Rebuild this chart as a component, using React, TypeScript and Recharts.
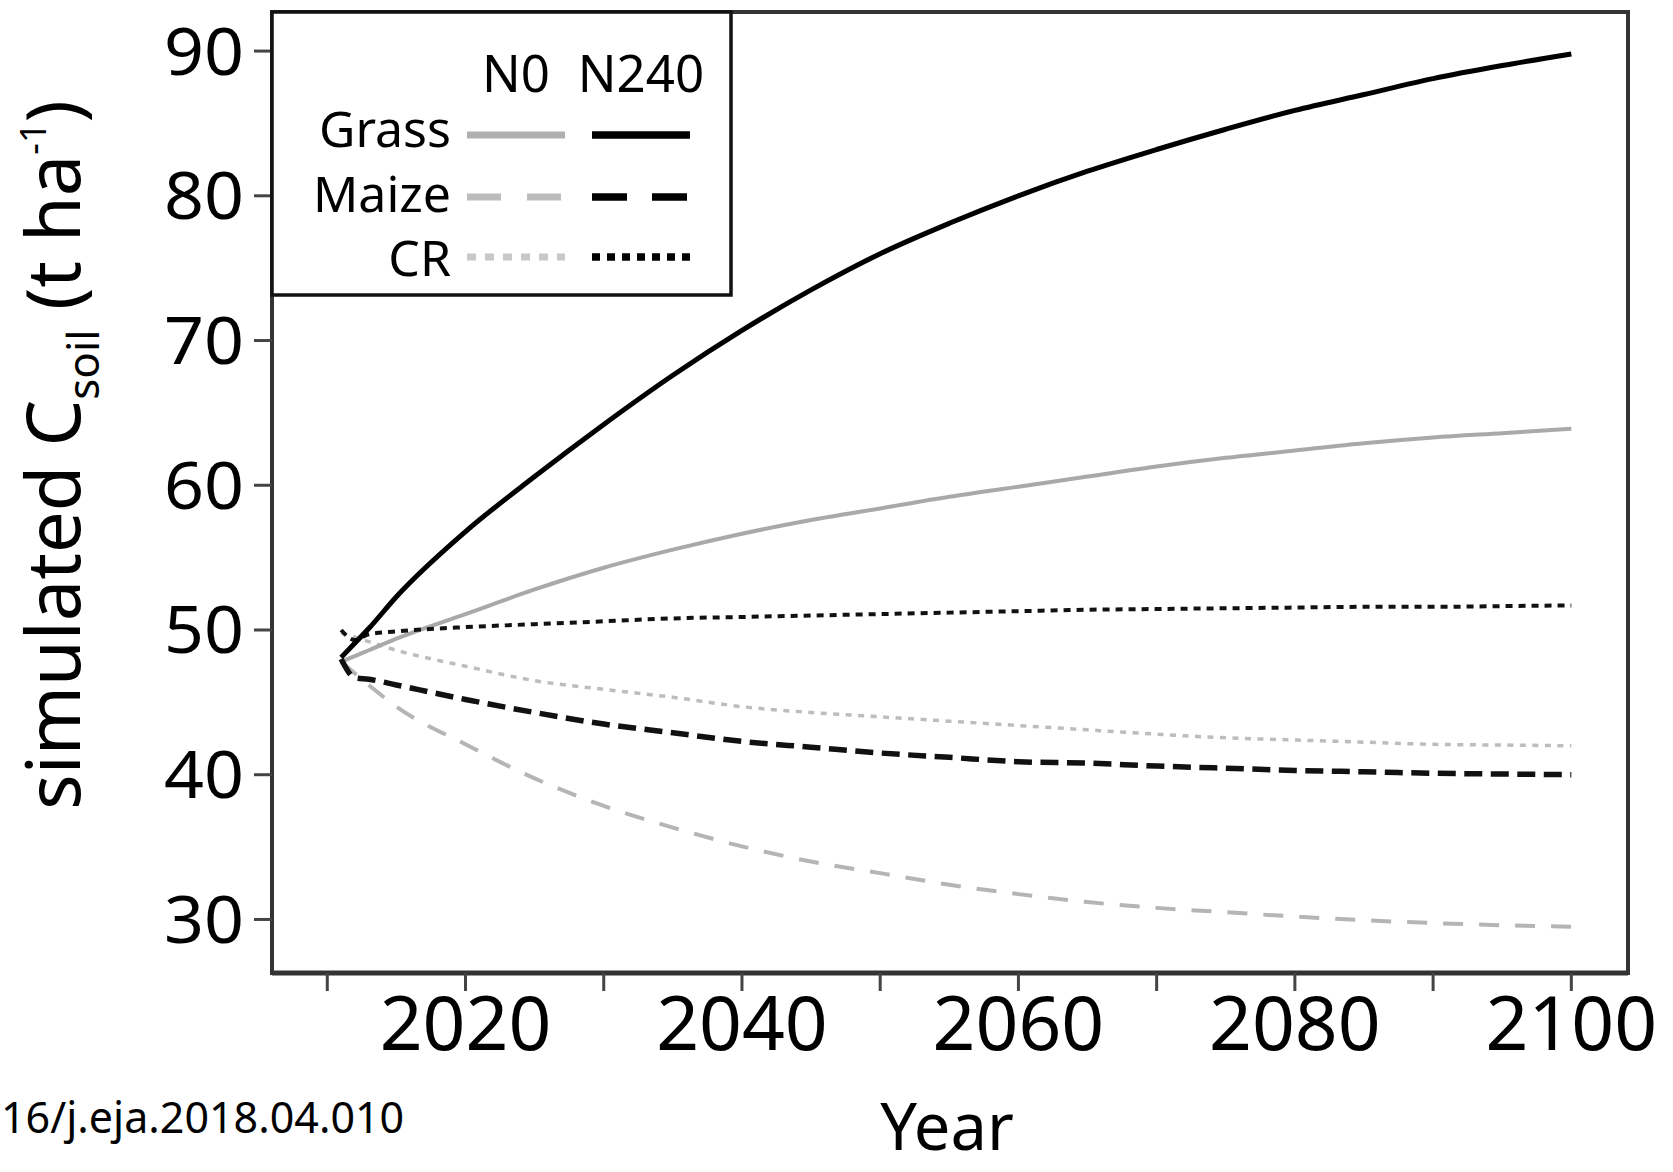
import React from "react";
import { Label, Line, LineChart, ReferenceArea, XAxis, YAxis } from "recharts";

// simulated soil C stocks (t ha-1)
const years = [2011, 2012, 2013, 2015, 2020, 2025, 2030, 2035, 2040, 2045, 2050, 2055, 2060, 2065, 2070, 2075, 2080, 2085, 2090, 2095, 2100];
const grassN0 = [47.8, 48.2, 48.6, 49.4, 51.1, 52.8, 54.3, 55.55, 56.65, 57.6, 58.4, 59.2, 59.9, 60.6, 61.3, 61.9, 62.4, 62.9, 63.3, 63.6, 63.9];
const grassN240 = [48.1, 49.1, 50.1, 52.3, 56.8, 60.6, 64.2, 67.6, 70.7, 73.5, 76.0, 78.1, 80.0, 81.7, 83.2, 84.6, 85.9, 87.0, 88.1, 89.0, 89.8];
const maizeN0 = [47.8, 47.0, 46.2, 44.7, 42.1, 39.75, 37.85, 36.35, 35.05, 34.0, 33.2, 32.4, 31.75, 31.2, 30.8, 30.5, 30.2, 29.95, 29.75, 29.6, 29.5];
const maizeN240 = [48.0, 46.7, 46.6, 46.2, 45.2, 44.3, 43.5, 42.9, 42.3, 41.9, 41.5, 41.2, 40.9, 40.8, 40.6, 40.45, 40.3, 40.2, 40.1, 40.05, 40.0];
const crN0 = [49.8, 49.5, 49.2, 48.6, 47.5, 46.5, 45.9, 45.35, 44.7, 44.3, 44.0, 43.7, 43.4, 43.1, 42.8, 42.55, 42.4, 42.25, 42.1, 42.05, 42.0];
const crN240 = [50.0, 49.3, 49.7, 49.9, 50.2, 50.4, 50.6, 50.8, 50.9, 51.0, 51.1, 51.2, 51.3, 51.4, 51.45, 51.5, 51.55, 51.6, 51.6, 51.65, 51.7];

const crops = ["Grass", "Maize", "CR"];
const nLevels = ["N0", "N240"];
const xTicks = [2010, 2020, 2030, 2040, 2050, 2060, 2070, 2080, 2090, 2100];
const yTicks = [30, 40, 50, 60, 70, 80, 90];

const data = years.map((year, i) => ({
  year,
  grassN0: grassN0[i],
  grassN240: grassN240[i],
  maizeN0: maizeN0[i],
  maizeN240: maizeN240[i],
  crN0: crN0[i],
  crN240: crN240[i],
}));

const FONT = "'Noto Sans', 'Open Sans', sans-serif";

// styles for the plot lines
const lineStyles: Record<string, { stroke: string; width: number; dash?: string }> = {
  crN0: { stroke: "#bdbdbd", width: 3.5, dash: "6 6.5" },
  maizeN0: { stroke: "#b5b5b5", width: 4, dash: "20 16" },
  grassN0: { stroke: "#a9a9a9", width: 4 },
  crN240: { stroke: "#111", width: 4, dash: "7 6" },
  maizeN240: { stroke: "#111", width: 5.5, dash: "18 8.5" },
  grassN240: { stroke: "#000", width: 5 },
};
const drawOrder = ["crN0", "maizeN0", "grassN0", "crN240", "maizeN240", "grassN240"];

// styles for the legend swatches
const legendStyles: Record<string, { stroke: string; width: number; dash?: string }> = {
  GrassN0: { stroke: "#b0b0b0", width: 7 },
  GrassN240: { stroke: "#000", width: 7.5 },
  MaizeN0: { stroke: "#bcbcbc", width: 7, dash: "34 26" },
  MaizeN240: { stroke: "#000", width: 7.5, dash: "35 25" },
  CRN0: { stroke: "#c8c8c8", width: 7, dash: "9 9" },
  CRN240: { stroke: "#000", width: 7.5, dash: "8 7" },
};

function XTick({ x, y, payload }: any) {
  if (payload.value % 20 !== 0) return <g />;
  return (
    <text x={x} y={y + 57} textAnchor="middle" fontFamily={FONT} fontSize={75} fill="#000">
      {payload.value}
    </text>
  );
}

function YTick({ x, y, payload }: any) {
  return (
    <g transform={`translate(${x},${y})`}>
      <text x={0} y={23.5} textAnchor="end" transform="scale(1.06,1)" fontFamily={FONT} fontSize={66} fill="#000">
        {payload.value}
      </text>
    </g>
  );
}

function YTitle() {
  return (
    <text transform="translate(80,455) rotate(-90)" textAnchor="middle" fontFamily={FONT} fontSize={74} fill="#000">
      simulated C
      <tspan fontSize={44} dy={19}>soil</tspan>
      <tspan dy={-19}> (t ha</tspan>
      <tspan fontSize={36} dy={-34}>-1</tspan>
      <tspan dy={34}>)</tspan>
    </text>
  );
}

function XTitle() {
  return (
    <g>
      <text x={947} y={1150} textAnchor="middle" fontFamily={FONT} fontSize={65} fill="#000">
        Year
      </text>
      <text x={1} y={1133} textAnchor="start" fontFamily={FONT} fontSize={43} fill="#000">
        16/j.eja.2018.04.010
      </text>
    </g>
  );
}

function LegendBox() {
  const colX = [[467, 565], [592, 690]];
  const rowY = [135, 197, 257];
  const labelY = [147, 212, 276];
  return (
    <svg width={760} height={310} style={{ position: "absolute", left: 0, top: 0 }}>
      <rect x={272} y={12} width={459} height={283} fill="#fff" stroke="#111" strokeWidth={3.5} />
      {nLevels.map((n, j) => (
        <text key={n} x={(colX[j][0] + colX[j][1]) / 2} y={92} textAnchor="middle" fontFamily={FONT} fontSize={51} fill="#000">
          {n}
        </text>
      ))}
      {crops.map((c, i) => (
        <g key={c}>
          <text x={451} y={labelY[i]} textAnchor="end" fontFamily={FONT} fontSize={50} fill="#000">
            {c}
          </text>
          {nLevels.map((n, j) => {
            const s = legendStyles[c + n];
            return (
              <line
                key={n}
                x1={colX[j][0]}
                x2={colX[j][1]}
                y1={rowY[i]}
                y2={rowY[i]}
                stroke={s.stroke}
                strokeWidth={s.width}
                strokeDasharray={s.dash}
              />
            );
          })}
        </g>
      ))}
    </svg>
  );
}

export default function App() {
  return (
    <div style={{ position: "absolute", left: 0, top: 0, width: 1673, height: 1172, background: "#fff" }}>
      <LineChart width={1673} height={1172} data={data} margin={{ top: 12, right: 45, bottom: 0, left: 0 }}>
        <XAxis
          dataKey="year"
          type="number"
          domain={[2006, 2104.1]}
          allowDataOverflow
          ticks={xTicks}
          interval={0}
          height={199}
          tickSize={18}
          tickMargin={2}
          tick={<XTick />}
          tickLine={{ stroke: "#444", strokeWidth: 3 }}
          axisLine={{ stroke: "#333", strokeWidth: 5 }}
        >
          <Label content={<XTitle />} />
        </XAxis>
        <YAxis
          type="number"
          domain={[26.3, 92.7]}
          allowDataOverflow
          ticks={yTicks}
          interval={0}
          width={272}
          tickSize={18}
          tickMargin={10}
          tick={<YTick />}
          tickLine={{ stroke: "#444", strokeWidth: 3 }}
          axisLine={{ stroke: "#333", strokeWidth: 4 }}
        >
          <Label content={<YTitle />} />
        </YAxis>
        <ReferenceArea
          x1={2006}
          x2={2104.1}
          y1={26.3}
          y2={92.7}
          ifOverflow="visible"
          fill="none"
          stroke="#333"
          strokeWidth={4}
        />
        {drawOrder.map((key) => (
          <Line
            key={key}
            dataKey={key}
            type="monotone"
            stroke={lineStyles[key].stroke}
            strokeWidth={lineStyles[key].width}
            strokeDasharray={lineStyles[key].dash}
            dot={false}
            activeDot={false}
            isAnimationActive={false}
          />
        ))}
      </LineChart>
      <LegendBox />
    </div>
  );
}
